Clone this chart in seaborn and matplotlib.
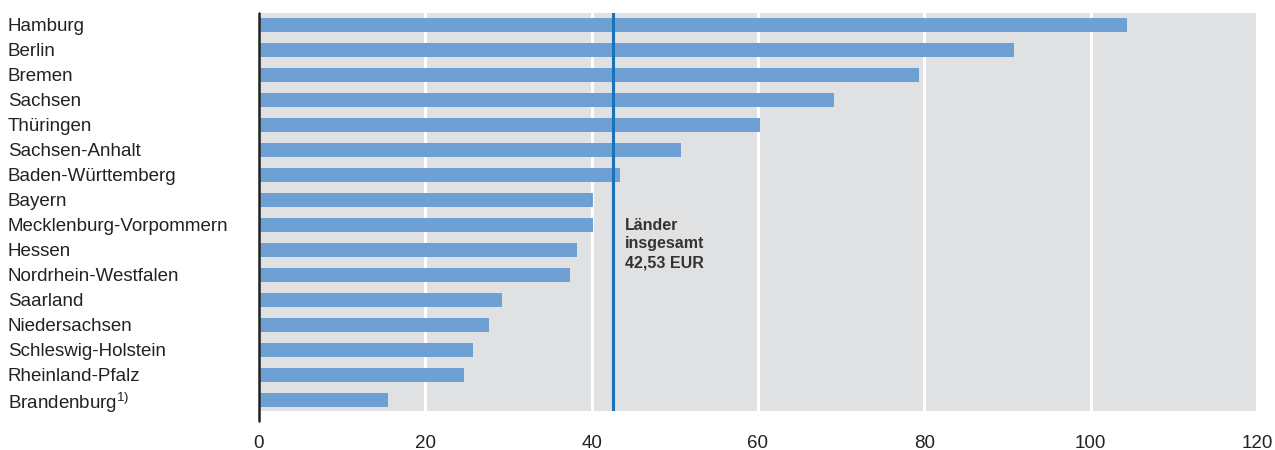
import pandas as pd
import matplotlib.pyplot as plt
import seaborn as sns

# values per state (EUR)
laender = ['Hamburg', 'Berlin', 'Bremen', 'Sachsen', 'Thüringen', 'Sachsen-Anhalt',
           'Baden-Württemberg', 'Bayern', 'Mecklenburg-Vorpommern', 'Hessen',
           'Nordrhein-Westfalen', 'Saarland', 'Niedersachsen', 'Schleswig-Holstein',
           'Rheinland-Pfalz', 'Brandenburg$^{1)}$']
werte = [104.4, 90.8, 79.4, 69.1, 60.2, 50.7, 43.4, 40.2, 40.2, 38.2, 37.4,
         29.2, 27.7, 25.7, 24.6, 15.5]
durchschnitt = 42.53
x_ticks = [0, 20, 40, 60, 80, 100, 120]

df = pd.DataFrame({'Land': laender, 'Wert': werte})

sns.set_style('white')
plt.rcParams['font.family'] = ['Liberation Sans', 'DejaVu Sans']
plt.rcParams['mathtext.fontset'] = 'custom'
plt.rcParams['mathtext.rm'] = 'Liberation Sans'

fig = plt.figure(figsize=(12.75, 4.5), dpi=100)
ax = fig.add_axes([259 / 1275, 1 - 411 / 450, 998 / 1275, 398 / 450])
ax.set_facecolor('#e0e1e2')

sns.barplot(data=df, x='Wert', y='Land', color='#6fa0d4', saturation=1,
            width=0.54, linewidth=0, ax=ax, zorder=3)

ax.set_xlim(0, 120)
ax.set_ylim(15.45, -0.48)
ax.set_xticks(x_ticks)
for t in x_ticks[1:]:
    ax.axvline(t, color='white', lw=2.2, zorder=1)

ax.axvline(durchschnitt, color='#1a72b8', lw=2.2, zorder=4)
ax.text(44.0, 7.72, 'Länder\ninsgesamt\n42,53 EUR', fontsize=11.5, fontweight='bold',
        color='#333333', va='top', ha='left', linespacing=1.3, zorder=5)

# left axis line sticks out a bit below the grey area
ax.axvline(0, ymin=-0.025, ymax=1, color='#222222', lw=1.8, clip_on=False, zorder=6)

for s in ax.spines.values():
    s.set_visible(False)

ax.set_xlabel('')
ax.set_ylabel('')
ax.tick_params(axis='x', length=0, pad=17, labelsize=13.5, labelcolor='#222222')
ax.tick_params(axis='y', length=0, pad=181, labelsize=13.5, labelcolor='#222222')
for lbl in ax.get_yticklabels():
    lbl.set_horizontalalignment('left')

fig.savefig('out.png', dpi=100)
